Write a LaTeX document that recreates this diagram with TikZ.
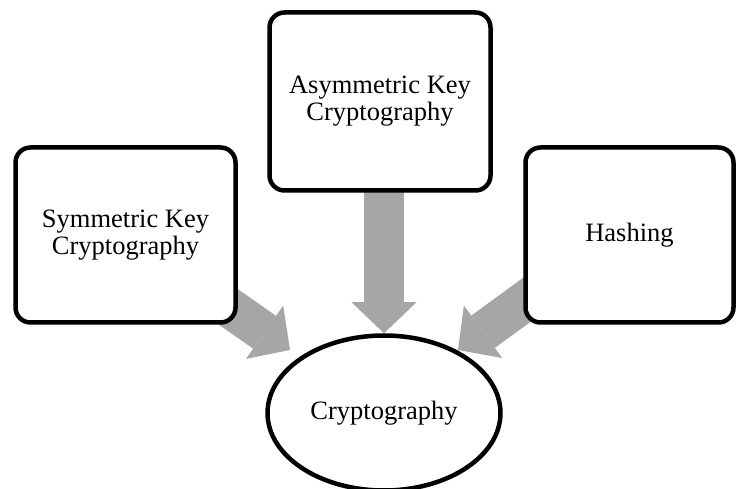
\documentclass[tikz,border=0pt]{standalone}
\usepackage{fontspec}
\setmainfont{Liberation Serif}
\usetikzlibrary{arrows.meta, shapes.geometric, backgrounds}

\definecolor{arrowgray}{RGB}{166,166,166}

\begin{document}
\begin{tikzpicture}[x=1pt, y=1pt, font=\fontsize{26.5}{27}\selectfont]

        % Setup the styles for the boxes and the arrows
        \tikzset{box style/.style={rectangle,
                                   rounded corners=15pt,
                                   draw=black,
                                   line width=4.5pt,
                                   fill=white,
                                   align=center,
                                   minimum height=175pt},
                 big arrow/.style={draw=arrowgray,
                                   line width=40pt,
                                   -{Triangle[width=65pt, length=31pt, line width=0pt, fill=arrowgray]}}}

        \useasboundingbox (0, 0) rectangle (737, 488);

        % Draw the boxes
        \node[box style, minimum width=220pt]
                            at (125.5, 253)   (symkey)  {Symmetric Key\\Cryptography};
        \node[box style, minimum width=221pt, minimum height=178pt]
                            at (380, 386.5)   (asymkey) {Asymmetric Key\\Cryptography};
        \node[box style, minimum width=208pt]
                            at (629.5, 253)   (hashing) {Hashing};
        \node[ellipse, draw=black, line width=4.5pt, fill=white,
              minimum width=233pt, minimum height=155pt]
                            at (384, 75)      (crypto)  {Cryptography};

        % Where the side arrows stop
        \coordinate (symtip)  at (290, 138);
        \coordinate (hashtip) at (458, 138);

        % Connect the boxes with the big arrows
        \begin{scope}[on background layer]
            \draw[big arrow] (symkey.center) -- (symtip);
            \draw[big arrow] (asymkey.center -| crypto.north) -- (crypto.north);
            \draw[big arrow] ([yshift=10pt]hashing.center) -- (hashtip);
        \end{scope}
    \end{tikzpicture}
\end{document}
